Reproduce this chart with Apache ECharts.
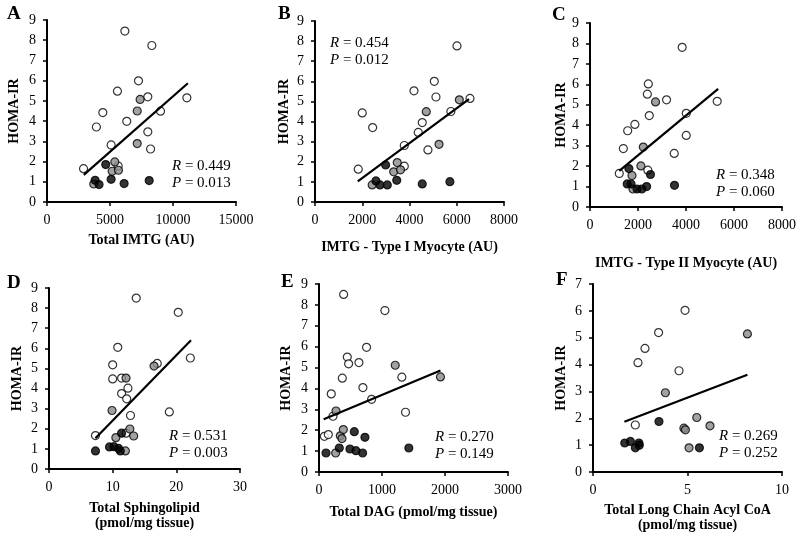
<!DOCTYPE html>
<html><head><meta charset="utf-8">
<script src="https://cdn.jsdelivr.net/npm/echarts@6/dist/echarts.min.js"></script>
<style>html,body{margin:0;padding:0;background:#fff}#c{width:800px;height:538px}</style>
</head><body><div id="c"></div>
<script>
// Panel A: Total IMTG (AU)
const aOpen = [[2900,1.65],[3920,3.71],[4430,4.42],[5090,2.82],[5590,5.48],[5650,1.78],[6180,8.45],[6330,3.99],[7260,5.99],[8000,5.20],[8000,3.47],[8220,2.62],[8320,7.74],[9010,4.49],[11100,5.15]];
const aGray = [[3710,0.89],[5170,1.52],[5380,1.98],[5670,1.57],[7160,4.50],[7160,2.89],[7390,5.07]];
const aBlack = [[3820,1.07],[4130,0.86],[4660,1.85],[5090,1.12],[6120,0.91],[8110,1.06]];
const aFit = [[2920,1.34],[11180,5.87]];
// Panel B: IMTG - Type I Myocyte (AU)
const bOpen = [[1830,1.63],[2000,4.43],[2440,3.70],[3780,2.81],[3780,1.78],[4190,5.53],[4540,3.95],[4370,3.46],[4780,2.59],[5050,6.00],[5120,5.22],[5750,4.50],[6010,7.76],[6560,5.15]];
const bGray = [[2420,0.85],[3330,1.50],[3480,1.96],[3620,1.60],[4710,4.49],[5250,2.87],[6110,5.08]];
const bBlack = [[2580,1.05],[2750,0.85],[2990,1.84],[3060,0.85],[3460,1.08],[4540,0.90],[5710,1.01]];
const bFit = [[1810,1.03],[6520,5.12]];
// Panel C: IMTG - Type II Myocyte (AU)
const cOpen = [[1220,1.64],[1390,2.86],[1570,3.73],[1870,4.04],[2390,5.52],[2430,6.02],[2470,4.47],[2410,1.80],[3190,5.24],[3510,2.62],[3840,7.81],[4010,4.58],[4010,3.50],[5300,5.17]];
const cGray = [[1750,1.54],[1790,0.88],[2120,2.01],[2220,2.93],[2730,5.14]];
const cBlack = [[1620,1.88],[1550,1.13],[1710,1.13],[1960,0.88],[2160,0.88],[2360,1.00],[2520,1.59],[3520,1.06]];
const cFit = [[1220,1.77],[5340,5.78]];
// Panel D: Total Sphingolipid (pmol/mg tissue)
const dOpen = [[7.3,1.66],[10.0,5.18],[10.0,4.48],[10.8,6.05],[11.4,4.52],[11.4,3.75],[12.2,3.49],[12.4,4.02],[12.1,1.78],[12.8,2.66],[13.7,8.50],[17.0,5.25],[18.9,2.84],[20.3,7.79],[22.2,5.52]];
const dGray = [[9.9,2.91],[10.5,1.56],[12.1,4.52],[12.7,1.99],[13.3,1.64],[12.0,0.90],[16.5,5.12]];
const dBlack = [[7.3,0.90],[9.5,1.10],[10.2,1.11],[10.9,1.03],[11.2,0.90],[11.4,1.78]];
const dFit = [[7.29,1.53],[22.3,6.40]];
// Panel E: Total DAG (pmol/mg tissue)
const eOpen = [[85,1.71],[148,1.79],[195,3.74],[222,2.67],[370,4.49],[391,8.50],[449,5.50],[470,5.18],[634,5.24],[697,4.04],[755,5.97],[835,3.48],[1046,7.73],[1315,4.54],[1373,2.86]];
const eGray = [[270,2.92],[264,0.91],[338,1.73],[365,1.60],[386,2.03],[1210,5.11],[1928,4.55]];
const eBlack = [[111,0.91],[322,1.15],[491,1.10],[560,1.93],[586,1.02],[692,0.91],[729,1.66],[1426,1.15]];
const eFit = [[74,2.52],[1928,4.86]];
// Panel F: Total Long Chain Acyl CoA (pmol/mg tissue)
const fOpen = [[2.24,1.75],[2.38,4.07],[2.75,4.60],[3.47,5.19],[4.55,3.77],[4.87,6.02]];
const fGray = [[3.83,2.95],[4.81,1.63],[4.89,1.57],[5.49,2.03],[5.08,0.90],[6.19,1.72],[8.17,5.14]];
const fBlack = [[1.68,1.08],[1.98,1.14],[2.24,0.90],[2.43,1.08],[2.45,1.00],[3.49,1.88],[5.63,0.90]];
const fFit = [[1.66,1.87],[8.17,3.62]];

const panelLetters = ['A','B','C','D','E','F'];
const xNames = ['Total IMTG (AU)','IMTG - Type I Myocyte (AU)','IMTG - Type II Myocyte (AU)','Total Sphingolipid\n(pmol/mg tissue)','Total DAG (pmol/mg tissue)','Total Long Chain Acyl CoA\n(pmol/mg tissue)'];
const yName = 'HOMA-IR';
const xMax = [15000,8000,8000,30,3000,10];
const xStep = [5000,2000,2000,10,1000,5];
const yMax = [9,9,9,9,9,7];
const rTexts = ['0.449','0.454','0.348','0.531','0.270','0.269'];
const pTexts = ['0.013','0.012','0.060','0.003','0.149','0.252'];

const panels = [
  [aOpen,aGray,aBlack,aFit],[bOpen,bGray,bBlack,bFit],[cOpen,cGray,cBlack,cFit],
  [dOpen,dGray,dBlack,dFit],[eOpen,eGray,eBlack,eFit],[fOpen,fGray,fBlack,fFit]
];

const FONT = '"Liberation Serif", "Times New Roman", serif';
const grids = [
  {left:47,top:20,width:189,height:182},
  {left:315,top:21,width:189,height:181},
  {left:590,top:23,width:192,height:184},
  {left:49,top:288,width:191,height:181},
  {left:319,top:284,width:189,height:188},
  {left:593,top:284,width:189,height:188}
];
const xGaps = [31,38,49,32,33,31];
const yGaps = [26,24,17,25,26,25];
const letterPos = [[7,15],[278,15],[552,16],[7,284],[281,283],[556,281]];
const rpPos = [[172,168],[330,45],[716,177],[169,438],[435,439],[719,438]];

const xAxis = [], yAxis = [], series = [], graphic = [];
for (let i = 0; i < 6; i++) {
  xAxis.push({
    gridIndex:i, type:'value', min:0, max:xMax[i], interval:xStep[i],
    name:xNames[i], nameLocation:'middle', nameGap:xGaps[i],
    nameTextStyle:{fontFamily:FONT,fontWeight:'bold',fontSize:14,color:'#000',lineHeight:15},
    axisLine:{show:true,onZero:false,lineStyle:{color:'#000',width:2}},
    axisTick:{show:true,length:4,lineStyle:{color:'#000',width:1.5}},
    axisLabel:{color:'#000',fontFamily:FONT,fontSize:14,margin:11,showMinLabel:true,showMaxLabel:true,formatter:v=>String(v)},
    splitLine:{show:false}
  });
  yAxis.push({
    gridIndex:i, type:'value', min:0, max:yMax[i], interval:1,
    name:yName, nameLocation:'middle', nameGap:yGaps[i], nameRotate:90,
    nameTextStyle:{fontFamily:FONT,fontWeight:'bold',fontSize:14,color:'#000'},
    axisLine:{show:true,onZero:false,lineStyle:{color:'#000',width:2}},
    axisTick:{show:true,length:4,lineStyle:{color:'#000',width:1.5}},
    axisLabel:{color:'#000',fontFamily:FONT,fontSize:14,margin:11,showMinLabel:true,showMaxLabel:true},
    splitLine:{show:false}
  });
  const [op,gr,bl,fit] = panels[i];
  const base = {type:'scatter',xAxisIndex:i,yAxisIndex:i,symbol:'circle',symbolSize:8,silent:true,z:2};
  series.push(Object.assign({},base,{data:op,itemStyle:{color:'#fff',borderColor:'#000',borderWidth:1.2}}));
  series.push(Object.assign({},base,{data:gr,itemStyle:{color:'#8a8a8a',borderColor:'#000',borderWidth:1.2}}));
  series.push(Object.assign({},base,{data:bl,itemStyle:{color:'#000',borderColor:'#000',borderWidth:1.2}}));
  series.push({type:'line',xAxisIndex:i,yAxisIndex:i,data:fit,symbol:'none',silent:true,z:3,
    lineStyle:{color:'#000',width:2.2}});
  graphic.push({type:'text',left:letterPos[i][0],top:letterPos[i][1]-10,
    style:{text:panelLetters[i],fontFamily:FONT,fontWeight:'bold',fontSize:19,fill:'#000'}});
  graphic.push({type:'text',left:rpPos[i][0],top:rpPos[i][1]-9,
    style:{text:'{i|R} = '+rTexts[i],fontFamily:FONT,fontSize:15,fill:'#000',
      rich:{i:{fontStyle:'italic',fontFamily:FONT,fontSize:15,fill:'#000'}}}});
  graphic.push({type:'text',left:rpPos[i][0],top:rpPos[i][1]+8,
    style:{text:'{i|P} = '+pTexts[i],fontFamily:FONT,fontSize:15,fill:'#000',
      rich:{i:{fontStyle:'italic',fontFamily:FONT,fontSize:15,fill:'#000'}}}});
}

const chart = echarts.init(document.getElementById('c'), null, {renderer:'canvas'});
chart.setOption({animation:false,backgroundColor:'#fff',grid:grids,xAxis,yAxis,series,graphic});
</script></body></html>
